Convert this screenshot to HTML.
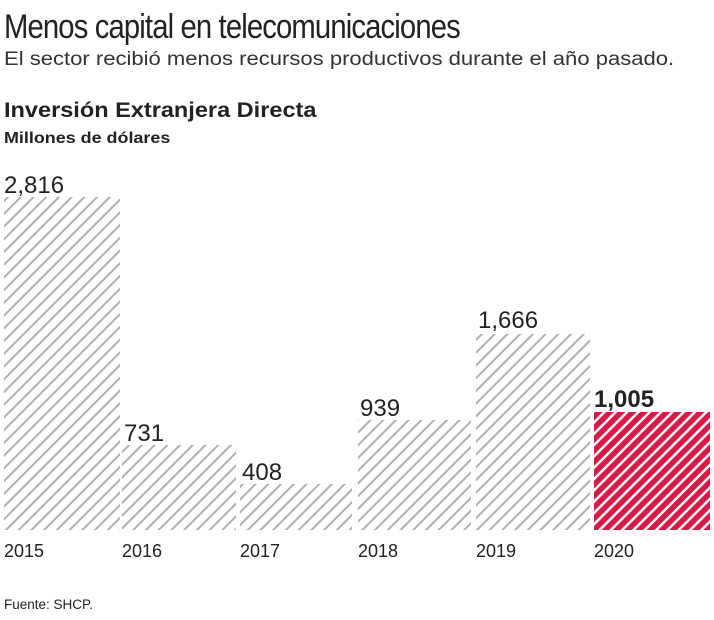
<!DOCTYPE html>
<html><head><meta charset="utf-8"><style>
body{margin:0;width:714px;height:620px;background:#fff;position:relative;overflow:hidden;font-family:"Liberation Sans",sans-serif;color:#222}
.t{position:absolute;white-space:nowrap}
</style></head><body>
<div class="t" style="left:4px;top:8px;font-size:34px;letter-spacing:-1px;transform:scaleX(0.86);transform-origin:left">Menos capital en telecomunicaciones</div>
<div class="t" style="left:4px;top:49px;font-size:19px;color:#333;transform:scaleX(1.16);transform-origin:left">El sector recibió menos recursos productivos durante el año pasado.</div>
<div class="t" style="left:4px;top:99px;font-size:21px;font-weight:bold;transform:scaleX(1.12);transform-origin:left">Inversión Extranjera Directa</div>
<div class="t" style="left:4px;top:130px;font-size:16px;font-weight:bold;transform:scaleX(1.12);transform-origin:left">Millones de dólares</div>
<svg width="714" height="620" style="position:absolute;left:0;top:0">
<defs>
<pattern id="g" width="9" height="9" patternUnits="userSpaceOnUse" patternTransform="rotate(45)">
<rect width="9" height="9" fill="#fff"/><rect width="2" height="9" fill="#b0b0b0"/></pattern>
<pattern id="r" width="8" height="8" patternUnits="userSpaceOnUse" patternTransform="rotate(45)">
<rect width="8" height="8" fill="#fff"/><rect width="5.5" height="8" fill="#d91a47"/></pattern>
</defs>
<rect x="4" y="197" width="116" height="333" fill="url(#g)"/>
<rect x="122" y="445" width="114" height="85" fill="url(#g)"/>
<rect x="240" y="484" width="112" height="46" fill="url(#g)"/>
<rect x="358" y="420" width="113" height="110" fill="url(#g)"/>
<rect x="476" y="334" width="114" height="196" fill="url(#g)"/>
<rect x="594" y="412" width="116" height="118" fill="url(#r)"/>
<g font-size="24" fill="#222" font-family="Liberation Sans,sans-serif">
<text x="4" y="193">2,816</text>
<text x="124" y="441">731</text>
<text x="242" y="480">408</text>
<text x="360" y="416">939</text>
<text x="478" y="328">1,666</text>
<text x="594" y="407" font-weight="bold">1,005</text>
</g>
<g font-size="18" fill="#222" font-family="Liberation Sans,sans-serif">
<text x="4" y="557">2015</text><text x="122" y="557">2016</text><text x="240" y="557">2017</text>
<text x="358" y="557">2018</text><text x="476" y="557">2019</text><text x="594" y="557">2020</text>
</g>
<text x="4" y="609" font-size="13.5" fill="#222" font-family="Liberation Sans,sans-serif">Fuente: SHCP.</text>
</svg>
</body></html>
